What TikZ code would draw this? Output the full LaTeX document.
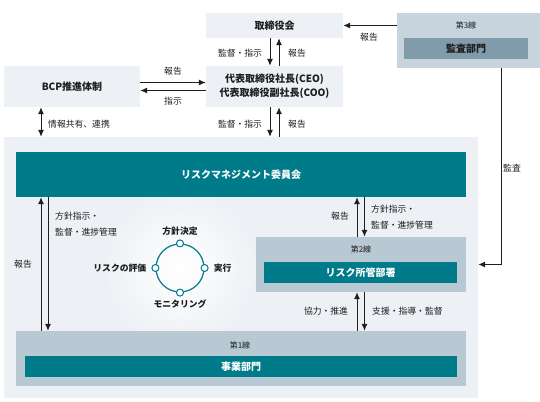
\documentclass[tikz,border=0pt]{standalone}
\usepackage{fontspec}
\setmainfont{Noto Sans CJK JP}
\usetikzlibrary{positioning}
\usetikzlibrary{arrows.meta}
\definecolor{rmteal}{HTML}{007B8A}
\definecolor{linegray}{HTML}{B9C9D3}
\definecolor{paleblue}{HTML}{EDF1F5}
\definecolor{auditgray}{HTML}{C7D4DD}
\definecolor{auditdark}{HTML}{809BA9}
\definecolor{ink}{HTML}{1E1E1E}

\begin{document}
\begin{tikzpicture}[x=1pt, y=-1pt,
    box/.style={fill=paleblue, inner sep=0pt, font=\bfseries\fontsize{10}{14}\selectfont, text=ink},
    bar/.style={fill=rmteal, inner sep=0pt, text=white, font=\bfseries\fontsize{10}{12}\selectfont},
    tier/.style={fill=linegray, inner sep=0pt},
    tiername/.style={inner sep=0pt, font=\fontsize{8}{10}\selectfont, text=ink},
    lbl/.style={inner sep=0pt, font=\fontsize{8.8}{16}\selectfont, text=ink},
    dot/.style={circle, draw=rmteal, fill=white, line width=1pt, minimum size=7pt, inner sep=0pt},
    arr/.style={draw=ink, line width=1pt, -{Latex[length=7pt,width=6pt]}},
    arrboth/.style={draw=ink, line width=1pt, {Latex[length=7pt,width=6pt]}-{Latex[length=7pt,width=6pt]}}]
      \useasboundingbox (0,0) rectangle (540,401);

      \node(cont) [fill=paleblue, minimum width=474pt, minimum height=261pt, inner sep=0pt] at (241,267.5) {};
      \shade[inner color=white, outer color=paleblue] (180,268) circle (78pt);

      \node(board) [box, minimum width=137pt, minimum height=25pt] at (274.5,25.5) {取締役会};
      \node(ceo) [box, minimum width=137pt, minimum height=41pt, align=center] at (274.5,86.5) {代表取締役社長(CEO)\\代表取締役副社長(COO)};
      \node(bcp) [box, minimum width=136pt, minimum height=41pt] at (72,86.5) {BCP推進体制};
      \node(third) [fill=auditgray, minimum width=143pt, minimum height=55pt, inner sep=0pt] at (468.5,40.5) {};
      \node(third3) [tiername] at (466,25) {第3線};
      \node(audit) [box, fill=auditdark, minimum width=124pt, minimum height=21pt] at (466,48.5) {監査部門};

      \node(comm) [bar, minimum width=450pt, minimum height=45pt] at (241,174.5) {リスクマネジメント委員会};
      \node(second) [tier, minimum width=210pt, minimum height=55pt] at (361,264.5) {};
      \node(second2) [tiername] at (361,249) {第2線};
      \node(riskdept) [bar, minimum width=193pt, minimum height=21pt] at (360.5,272.5) {リスク所管部署};
      \node(first) [tier, minimum width=450pt, minimum height=55pt] at (241,358.5) {};
      \node(first1) [tiername] at (240,345) {第1線};
      \node(biz) [bar, minimum width=432pt, minimum height=21pt] at (241,366.5) {事業部門};

      \node(cyc) [circle, draw=rmteal, line width=1.2pt, minimum size=48pt] at (180,268) {};
      \node(ptop) [dot] at (cyc.north) {};
      \node(pright) [dot] at (cyc.east) {};
      \node(pbottom) [dot] at (cyc.south) {};
      \node(pleft) [dot] at (cyc.west) {};
      \node(plan) [lbl, font=\bfseries\fontsize{8.8}{11}\selectfont, above=4pt of ptop] {方針決定};
      \node(doit) [lbl, font=\bfseries\fontsize{8.8}{11}\selectfont, right=5pt of pright] {実行};
      \node(watch) [lbl, font=\bfseries\fontsize{8.8}{11}\selectfont, below=3pt of pbottom] {モニタリング};
      \node(assess) [lbl, font=\bfseries\fontsize{8.8}{11}\selectfont, left=5pt of pleft] {リスクの評価};

      \node(l1) [lbl] at (369,37) {報告};
      \node(l2) [lbl] at (240,53) {監督・指示};
      \node(l3) [lbl] at (297,53) {報告};
      \node(l4) [lbl] at (173,71) {報告};
      \node(l5) [lbl] at (173,101) {指示};
      \node(l6) [lbl, anchor=west] at (48,124) {情報共有、連携};
      \node(l7) [lbl] at (240,124) {監督・指示};
      \node(l8) [lbl] at (297,124) {報告};
      \node(l9) [lbl] at (512,168) {監査};
      \node(l10) [lbl] at (23,264) {報告};
      \node(l11) [lbl, anchor=west, align=left] at (55,224) {方針指示・\\監督・進捗管理};
      \node(l12) [lbl] at (340,216) {報告};
      \node(l13) [lbl, anchor=west, align=left] at (371,217) {方針指示・\\監督・進捗管理};
      \node(l14) [lbl] at (326,311) {協力・推進};
      \node(l15) [lbl, anchor=west] at (372,311) {支援・指導・監督};

      \draw[arr](third.west |- board.east) -- (board.east);
      \draw[arr]([xshift=-4.5pt]board.south) -- ([xshift=-4.5pt]ceo.north);
      \draw[arr]([xshift=4.5pt]ceo.north) -- ([xshift=4.5pt]board.south);
      \draw[arr]([yshift=4pt]bcp.east) -- ([yshift=4pt]ceo.west);
      \draw[arr]([yshift=-4pt]ceo.west) -- ([yshift=-4pt]bcp.east);
      \draw[arrboth]([xshift=-31pt]bcp.south) -- ([xshift=-31pt]bcp.south |- cont.north);
      \draw[arr]([xshift=-4.5pt]ceo.south) -- ([xshift=-4.5pt]ceo.south |- cont.north);
      \draw[arr]([xshift=4.5pt]ceo.south |- cont.north) -- ([xshift=4.5pt]ceo.south);
      \draw[arr]([xshift=32.5pt]third.south) |- (cont.east |- second.east);
      \draw[arr]([xshift=-200pt]first.north) -- ([xshift=-200pt]comm.south);
      \draw[arr]([xshift=-193pt]comm.south) -- ([xshift=-193pt]first.north);
      \draw[arr]([xshift=-4pt]second.north) -- ([xshift=-4pt]second.north |- comm.south);
      \draw[arr]([xshift=3.5pt]second.north |- comm.south) -- ([xshift=3.5pt]second.north);
      \draw[arr]([xshift=-4pt]first.north -| second.north) -- ([xshift=-4pt]second.south);
      \draw[arr]([xshift=3.5pt]second.south) -- ([xshift=3.5pt]first.north -| second.south);
    \end{tikzpicture}
\end{document}
